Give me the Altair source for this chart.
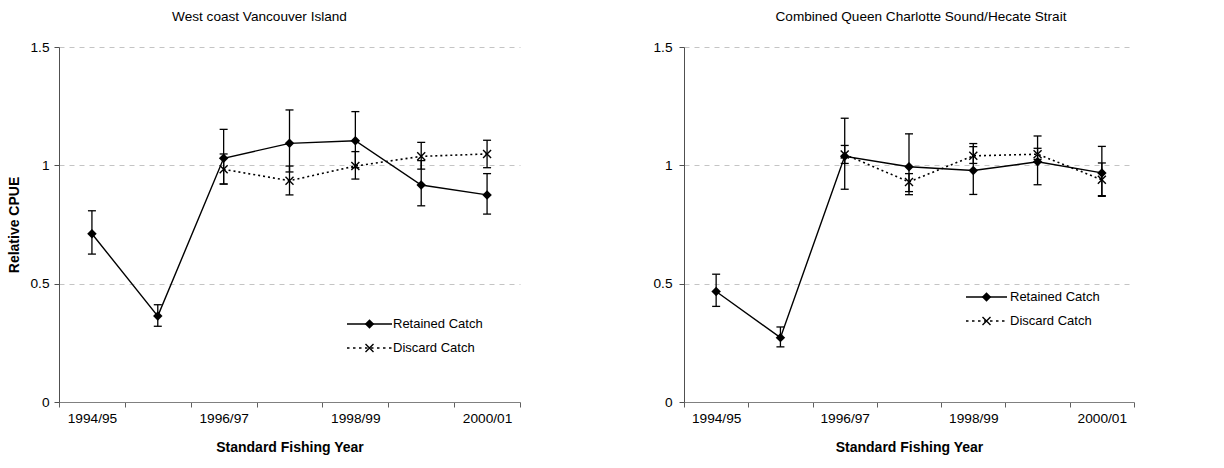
import altair as alt
import pandas as pd

years = ["1994/95", "1995/96", "1996/97", "1997/98", "1998/99", "1999/00", "2000/01"]
label_years = ["1994/95", "1996/97", "1998/99", "2000/01"]
series_names = ["Retained Catch", "Discard Catch"]
panel_titles = ["West coast Vancouver Island", "Combined Queen Charlotte Sound/Hecate Strait"]

# West coast Vancouver Island
wcvi_ret = [0.711, 0.363, 1.030, 1.093, 1.104, 0.917, 0.875]
wcvi_ret_lo = [0.625, 0.320, 0.921, 0.972, 0.990, 0.829, 0.794]
wcvi_ret_hi = [0.808, 0.411, 1.152, 1.234, 1.227, 1.020, 0.965]
wcvi_dis = [None, None, 0.983, 0.935, 0.997, 1.038, 1.048]
wcvi_dis_lo = [None, None, 0.921, 0.875, 0.942, 0.984, 0.990]
wcvi_dis_hi = [None, None, 1.048, 0.997, 1.058, 1.097, 1.106]

# Combined Queen Charlotte Sound / Hecate Strait
qc_ret = [0.467, 0.272, 1.038, 0.994, 0.978, 1.015, 0.968]
qc_ret_lo = [0.404, 0.233, 0.899, 0.876, 0.877, 0.918, 0.872]
qc_ret_hi = [0.540, 0.317, 1.199, 1.133, 1.092, 1.124, 1.080]
qc_dis = [None, None, 1.046, 0.930, 1.040, 1.047, 0.939]
qc_dis_lo = [None, None, 1.008, 0.889, 1.008, 1.025, 0.869]
qc_dis_hi = [None, None, 1.084, 0.965, 1.079, 1.072, 1.010]

FONT = "Liberation Sans"
CROSS = "M-1,-1L1,1M-1,1L1,-1"
DIAMOND_SIZE = 90
CROSS_SIZE = 64


def make_df(ret, ret_lo, ret_hi, dis, dis_lo, dis_hi):
    rows = []
    for name, v, lo, hi in [(series_names[0], ret, ret_lo, ret_hi),
                            (series_names[1], dis, dis_lo, dis_hi)]:
        for y, a, b, c in zip(years, v, lo, hi):
            if a is None:
                continue
            rows.append({"year": y, "series": name, "value": a, "lo": b, "hi": c})
    return pd.DataFrame(rows)


def panel(df, title, width, show_ytitle, ylabelpad, dx, leg):
    label_expr = "indexof(" + str(label_years) + ", datum.label) >= 0 ? datum.label : ''"
    xenc = alt.X("year:N", sort=years,
                 scale=alt.Scale(type="band", domain=years, paddingInner=0, paddingOuter=0),
                 axis=alt.Axis(tickBand="extent", labelExpr=label_expr, labelAngle=0,
                               title="Standard Fishing Year", domainColor="#808080",
                               tickColor="#606060", tickSize=5, labelPadding=4,
                               titlePadding=16, labelFontSize=13.7, titleFontSize=14,
                               titleFontWeight="bold", grid=False))
    yaxis = alt.Axis(values=[0, 0.5, 1, 1.5], format=".1~f", grid=True,
                     gridDash=[5, 5], gridColor="#c4c4c4", gridWidth=1,
                     domainColor="#505050", tickColor="#505050", tickSize=5,
                     labelPadding=ylabelpad, labelFontSize=13.7,
                     title="Relative CPUE" if show_ytitle else None,
                     titleFontSize=14, titleFontWeight="bold", titlePadding=8)
    yscale = alt.Scale(domain=[0, 1.5], nice=False, zero=True)
    yenc = alt.Y("value:Q", scale=yscale, axis=yaxis)

    base = alt.Chart(df)
    ret = base.transform_filter(alt.datum.series == series_names[0])
    dis = base.transform_filter(alt.datum.series == series_names[1])

    layers = []
    for sub, dash in [(dis, [2, 3]), (ret, None)]:
        kw = dict(color="black", strokeWidth=1.4)
        if dash:
            kw["strokeDash"] = dash
            kw["strokeWidth"] = 1.6
        layers.append(sub.mark_line(**kw).encode(x=xenc, y=yenc))
        layers.append(sub.mark_rule(color="black", strokeWidth=1.3).encode(
            x=xenc, y=alt.Y("lo:Q", scale=yscale, axis=yaxis), y2="hi:Q"))
        for f in ["lo", "hi"]:
            layers.append(sub.mark_tick(color="black", size=8, thickness=1.3,
                                        orient="horizontal", opacity=1).encode(
                x=xenc, y=alt.Y(f + ":Q", scale=yscale, axis=yaxis)))
    layers.append(dis.mark_point(shape=CROSS, size=CROSS_SIZE, color="black", filled=False,
                                 strokeWidth=1.4, opacity=1).encode(x=xenc, y=yenc))
    layers.append(ret.mark_point(shape="diamond", size=DIAMOND_SIZE, color="black", filled=True,
                                 opacity=1).encode(x=xenc, y=yenc))

    # legend
    lx1, lx2, ly1, ly2, tx = leg
    one = pd.DataFrame({"k": [0]})
    lb = alt.Chart(one)
    layers.append(lb.mark_rule(color="black", strokeWidth=1.4).encode(
        x=alt.value(lx1), x2=alt.value(lx2), y=alt.value(ly1)))
    layers.append(lb.mark_rule(color="black", strokeWidth=1.6, strokeDash=[2.5, 3.5]).encode(
        x=alt.value(lx1), x2=alt.value(lx2), y=alt.value(ly2)))
    layers.append(lb.mark_point(shape="diamond", size=DIAMOND_SIZE, color="black", filled=True,
                                opacity=1).encode(x=alt.value((lx1 + lx2) / 2), y=alt.value(ly1)))
    layers.append(lb.mark_point(shape=CROSS, size=CROSS_SIZE, color="black", filled=False,
                                strokeWidth=1.4, opacity=1).encode(
        x=alt.value((lx1 + lx2) / 2), y=alt.value(ly2)))
    for i, ly in enumerate([ly1, ly2]):
        layers.append(lb.mark_text(align="left", baseline="middle", fontSize=13,
                                   font=FONT, color="black").encode(
            x=alt.value(tx), y=alt.value(ly), text=alt.value(series_names[i])))

    return alt.layer(*layers).properties(
        width=width, height=355,
        view=alt.ViewBackground(stroke="transparent", strokeWidth=0),
        title=alt.TitleParams(title, fontSize=13.6, font=FONT, fontWeight="normal",
                              anchor="middle", dx=dx, offset=16, color="black"))


left = panel(make_df(wcvi_ret, wcvi_ret_lo, wcvi_ret_hi, wcvi_dis, wcvi_dis_lo, wcvi_dis_hi),
             panel_titles[0], 461, True, 5, -30, (288, 333, 277, 301, 334))
right = panel(make_df(qc_ret, qc_ret_lo, qc_ret_hi, qc_dis, qc_dis_lo, qc_dis_hi),
              panel_titles[1], 450, False, 7, 12, (282, 323, 250, 274, 326))

chart = alt.hconcat(left, right, spacing=131).properties(
    padding={"left": 7, "top": 10, "right": 5, "bottom": 5}
).configure_view(stroke="transparent", strokeWidth=0).configure_axis(
    labelFont=FONT, titleFont=FONT, labelColor="black", titleColor="black"
).configure(background="white")

chart.save("out.html", embed_options={"renderer": "svg", "actions": False})
